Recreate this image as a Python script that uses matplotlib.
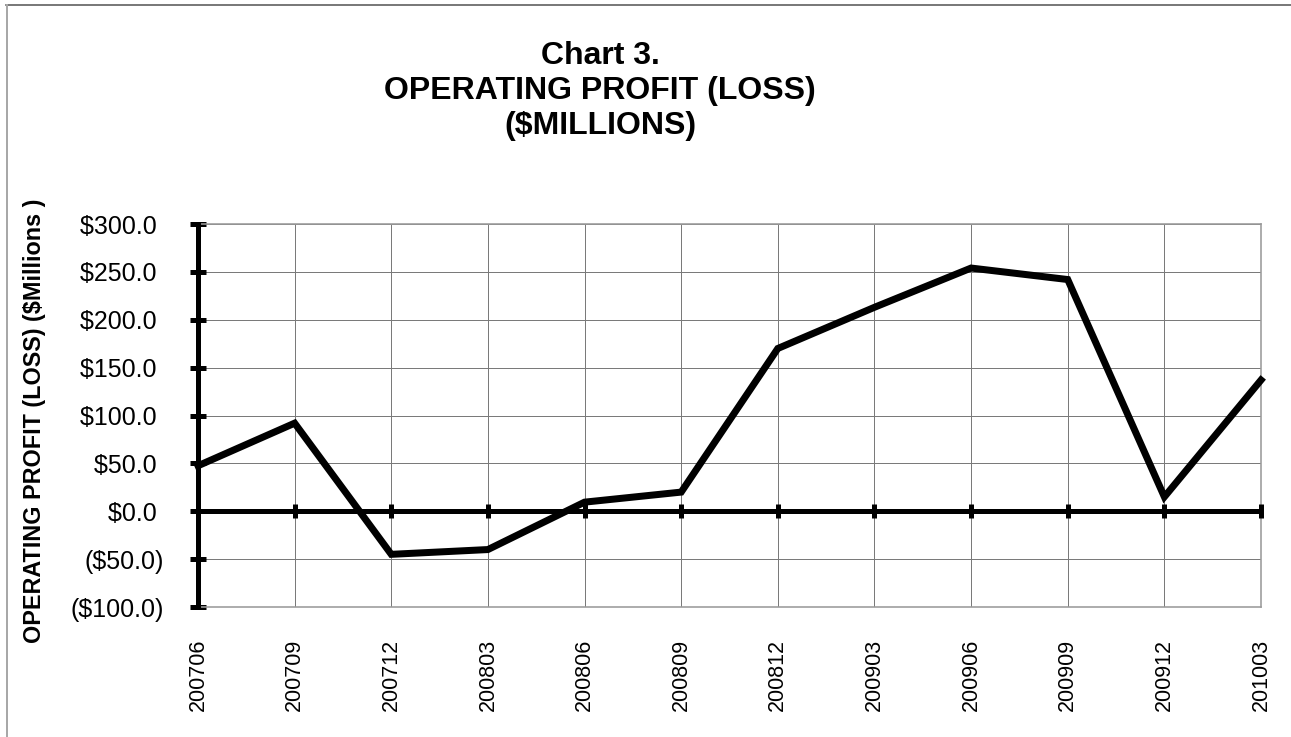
import matplotlib
matplotlib.use("Agg")
import matplotlib.pyplot as plt
from matplotlib.lines import Line2D

periods = ["200706", "200709", "200712", "200803", "200806", "200809",
           "200812", "200903", "200906", "200909", "200912", "201003"]
profit = [47.5, 92.0, -45.0, -40.0, 9.5, 20.0,
          170.0, 213.0, 254.0, 242.0, 15.0, 137.0]
ytick_vals = [-100, -50, 0, 50, 100, 150, 200, 250, 300]
ytick_labels = ["($100.0)", "($50.0)", "$0.0 ", "$50.0 ", "$100.0 ",
                "$150.0 ", "$200.0 ", "$250.0 ", "$300.0 "]

plt.rcParams['font.family'] = ['Liberation Sans', 'DejaVu Sans']

W, H = 1291, 737
fig = plt.figure(figsize=(W / 100, H / 100), dpi=100)
px = 0.72  # points per pixel

left, right, top, bottom = 198, 1261, 224, 607
ax = fig.add_axes([left / W, 1 - bottom / H, (right - left) / W, (bottom - top) / H])

x = list(range(len(periods)))
ax.set_xlim(0, len(periods) - 1)
ax.set_ylim(-100, 300)

# grid
ax.set_yticks(ytick_vals)
ax.set_yticklabels(ytick_labels)
ax.set_xticks(x)
ax.set_xticklabels(periods, rotation=90)
ax.grid(True, color='#7a7a7a', linewidth=1.0 * px, zorder=0)

for side in ['top', 'right', 'bottom']:
    ax.spines[side].set_color('#9a9a9a')
    ax.spines[side].set_linewidth(1.6 * px)
ax.spines['left'].set_color('black')
ax.spines['left'].set_linewidth(5 * px)
ax.spines['left'].set_zorder(5)

ax.tick_params(axis='y', direction='inout', length=16 * px, width=5 * px,
               color='black', pad=26 * px, labelsize=18)
ax.tick_params(axis='x', length=0, pad=32 * px, labelsize=15.5)

# zero line with category tick marks
ax.plot(x, [0] * len(x), color='black', linewidth=5 * px,
        marker='|', markersize=14 * px, markeredgewidth=5 * px,
        zorder=3, clip_on=False)

# data line
ax.plot(x, profit, color='black', linewidth=7 * px, zorder=4,
        solid_joinstyle='miter', clip_on=False)

# y axis title
fig.text(35 / W, 1 - 421 / H, "OPERATING PROFIT (LOSS) ($Millions )",
         rotation=90, ha='center', va='center', fontsize=16.8,
         fontweight='bold')

fig.text(600 / W, 1 - 91 / H, "Chart 3.\nOPERATING PROFIT (LOSS)\n($MILLIONS)",
         ha='center', va='center', multialignment='center',
         fontsize=23, fontweight='bold', linespacing=1.2)

# outer border (top and left visible)
fig.add_artist(Line2D([6 / W, 1], [1 - 4.5 / H, 1 - 4.5 / H], color='#5a5a5a',
                      linewidth=1.6 * px, transform=fig.transFigure))
fig.add_artist(Line2D([6.5 / W, 6.5 / W], [0, 1 - 4.5 / H], color='#a8a8a8',
                      linewidth=2 * px, transform=fig.transFigure))

fig.savefig("out.png", dpi=100, facecolor='white')
